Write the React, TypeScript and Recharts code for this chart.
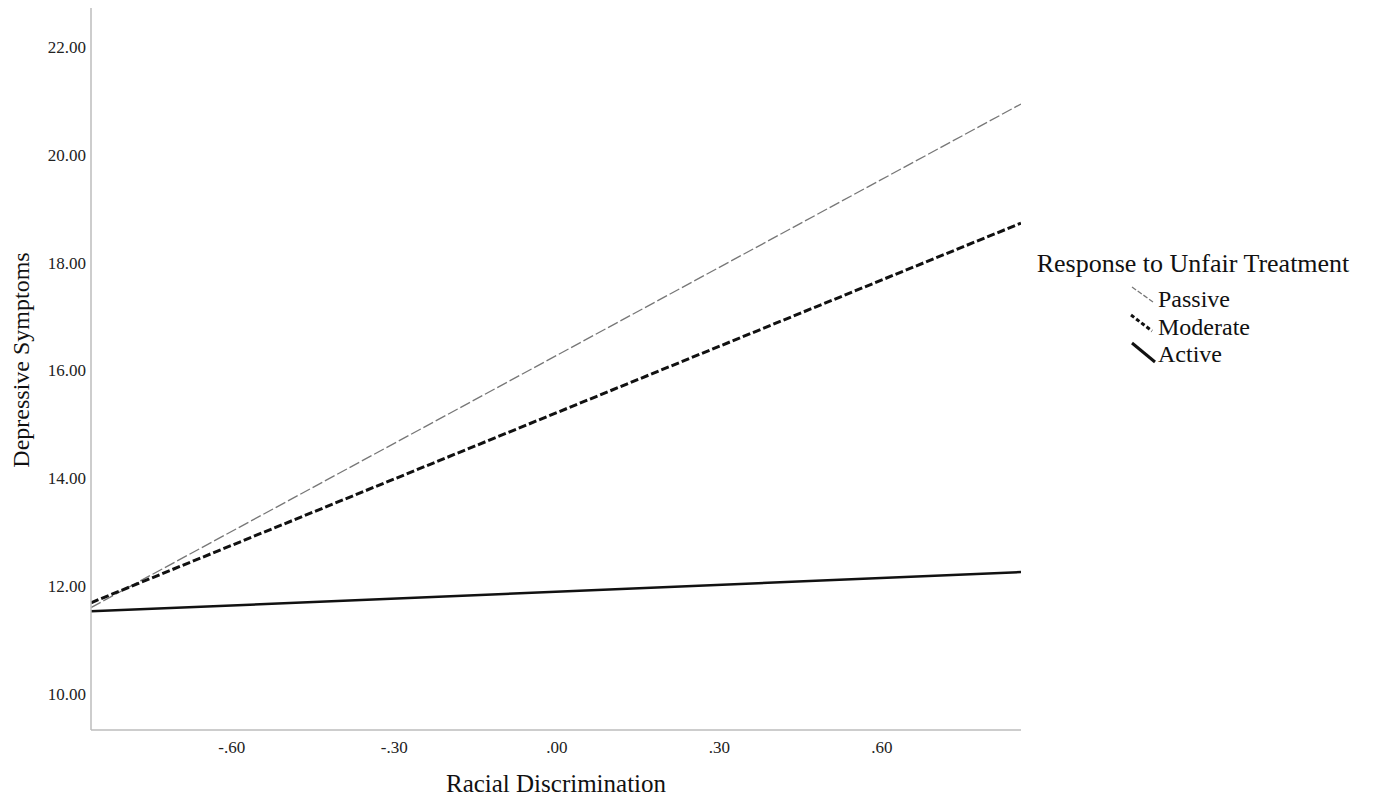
import { LineChart, Line, XAxis, YAxis } from 'recharts';

// x positions of the fitted lines (ends of the plotted range)
const discrimination = [-0.86, 0.857];
const passive = [11.6, 20.94];
const moderate = [11.69, 18.73];
const active = [11.53, 12.26];

const xTicks = [-0.6, -0.3, 0, 0.3, 0.6];
const yTicks = [10, 12, 14, 16, 18, 20, 22];

const legendTitle = 'Response to Unfair Treatment';
const seriesNames = ['Passive', 'Moderate', 'Active'];

const data = discrimination.map((x, i) => ({
  x,
  passive: passive[i],
  moderate: moderate[i],
  active: active[i],
}));

const FONT = '"Liberation Serif", "Times New Roman", serif';

// SPSS-style ".60" / "-.30"
const fmtX = (v: number) => {
  const s = Math.abs(v).toFixed(2).replace(/^0/, '');
  return v < 0 ? `-${s}` : s;
};

const YTitle = (props: any) => {
  const vb = props.viewBox || { x: 0, y: 0, width: 0, height: 0 };
  const cx = 21;
  const cy = vb.y + vb.height / 2 - 9;
  return (
    <text
      x={cx}
      y={cy}
      transform={`rotate(-90 ${cx} ${cy})`}
      textAnchor="middle"
      dominantBaseline="central"
      fontFamily={FONT}
      fontSize={24}
      fill="#111"
    >
      Depressive Symptoms
    </text>
  );
};

const XTitle = (props: any) => {
  const vb = props.viewBox || { x: 0, y: 0, width: 0, height: 0 };
  return (
    <text x={vb.x + vb.width / 2} y={792} textAnchor="middle" fontFamily={FONT} fontSize={25} fill="#111">
      Racial Discrimination
    </text>
  );
};

// legend drawn beside the plot, SPSS style (slanted line sample + label)
const LegendBox = () => {
  const icons = [
    { stroke: '#777', width: 1.3, dash: '5 2', x1: 112, y1: 47, x2: 133, y2: 62 },
    { stroke: '#111', width: 3, dash: '4 2.5', x1: 111, y1: 75, x2: 132, y2: 91 },
    { stroke: '#111', width: 3, dash: undefined, x1: 112, y1: 103, x2: 135, y2: 122 },
  ];
  const baselines = [67, 95, 122];
  return (
    <svg width={345} height={130} style={{ display: 'block' }}>
      <text x={173} y={32} textAnchor="middle" fontFamily={FONT} fontSize={26} fill="#111">
        {legendTitle}
      </text>
      {seriesNames.map((name, i) => (
        <g key={name}>
          <line
            x1={icons[i].x1}
            y1={icons[i].y1}
            x2={icons[i].x2}
            y2={icons[i].y2}
            stroke={icons[i].stroke}
            strokeWidth={icons[i].width}
            strokeDasharray={icons[i].dash}
          />
          <text x={138} y={baselines[i]} fontFamily={FONT} fontSize={24} fill="#111">
            {name}
          </text>
        </g>
      ))}
    </svg>
  );
};

export default function App() {
  return (
    <div style={{ position: 'absolute', left: 0, top: 0, width: 1373, height: 798, background: '#fff' }}>
      <LineChart width={1373} height={798} data={data} margin={{ top: 8, right: 352, left: 0, bottom: 0 }}>
        <XAxis
          dataKey="x"
          type="number"
          domain={[-0.86, 0.857]}
          allowDataOverflow
          ticks={xTicks}
          tickFormatter={fmtX}
          tickLine={false}
          tickSize={0}
          tickMargin={11}
          height={68}
          axisLine={{ stroke: '#bdbdbd', strokeWidth: 1.5 }}
          tick={{ fill: '#222', fontSize: 17, fontFamily: FONT }}
          label={<XTitle />}
        />
        <YAxis
          type="number"
          domain={[9.33, 22.72]}
          allowDataOverflow
          ticks={yTicks}
          tickFormatter={(v: number) => v.toFixed(2)}
          tickLine={false}
          tickSize={0}
          tickMargin={5}
          width={91}
          axisLine={{ stroke: '#bdbdbd', strokeWidth: 1.5 }}
          tick={{ fill: '#222', fontSize: 17, fontFamily: FONT }}
          label={<YTitle />}
        />
        <Line
          dataKey="passive"
          name="Passive"
          type="linear"
          stroke="#777"
          strokeWidth={1.3}
          strokeDasharray="11 3"
          dot={false}
          isAnimationActive={false}
        />
        <Line
          dataKey="moderate"
          name="Moderate"
          type="linear"
          stroke="#111"
          strokeWidth={3}
          strokeDasharray="8 3"
          dot={false}
          isAnimationActive={false}
        />
        <Line
          dataKey="active"
          name="Active"
          type="linear"
          stroke="#111"
          strokeWidth={2.5}
          dot={false}
          isAnimationActive={false}
        />
      </LineChart>
      <div style={{ position: 'absolute', left: 1020, top: 240 }}>
        <LegendBox />
      </div>
    </div>
  );
}
